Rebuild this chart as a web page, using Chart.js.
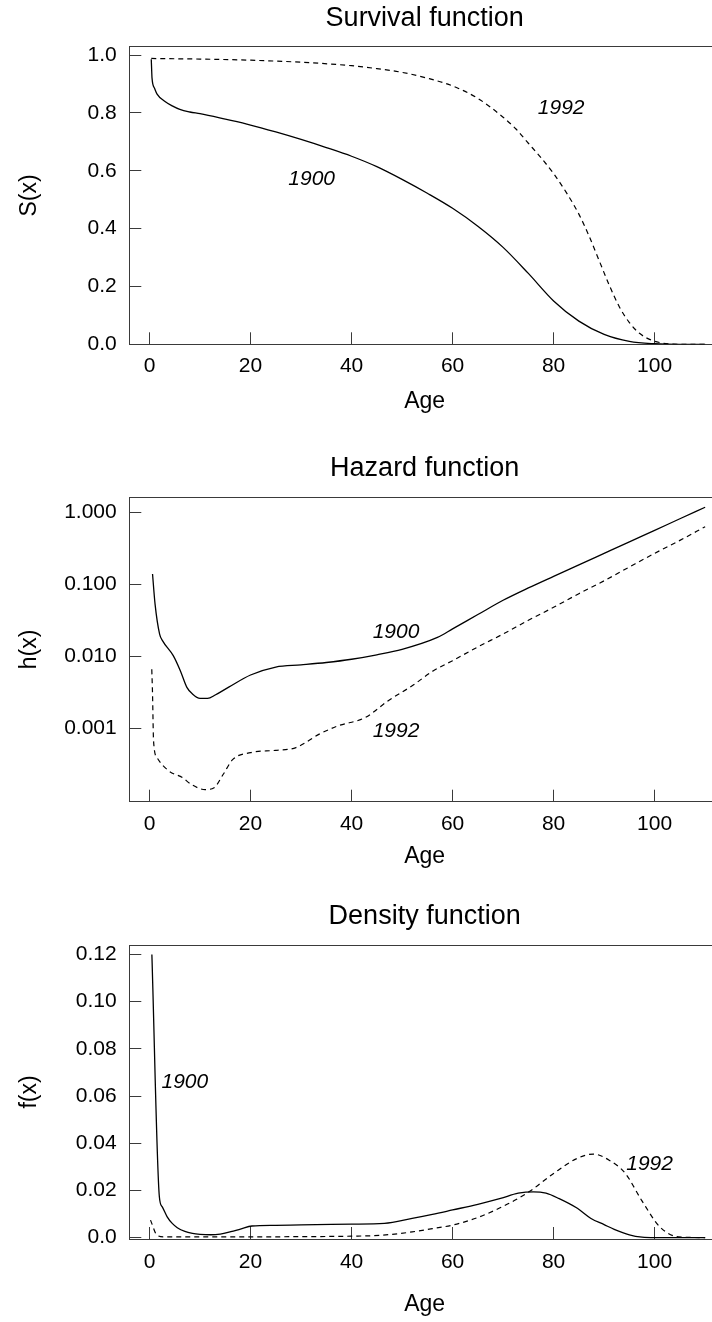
<!DOCTYPE html>
<html>
<head>
<meta charset="utf-8">
<script src="https://cdn.jsdelivr.net/npm/chart.js@4.4.1/dist/chart.umd.min.js"></script>
<style>
  html, body { margin: 0; padding: 0; background: #fff; overflow: hidden; width: 712px; height: 1322px; }
  canvas { position: absolute; left: 0; }
</style>
</head>
<body>
<canvas id="chartS" width="720" height="420" style="top:0px"></canvas>
<canvas id="chartH" width="720" height="440" style="top:440px"></canvas>
<canvas id="chartF" width="720" height="442" style="top:880px"></canvas>
<script>
// --- data ---
const ageTicks = [0, 20, 40, 60, 80, 100];
const yearLabels = ['1900', '1992'];

// survival S(x)
const survAge1900 = [0.35, 0.5, 1, 1.5, 3, 4.5, 6, 8, 10, 15, 20, 25, 30, 35, 40, 45, 50, 55, 60, 65, 70, 75, 80, 85, 90, 95, 100, 105, 110];
const surv1900 = [0.985, 0.92, 0.885, 0.865, 0.84, 0.824, 0.812, 0.803, 0.797, 0.778, 0.758, 0.734, 0.708, 0.68, 0.65, 0.614, 0.57, 0.522, 0.47, 0.408, 0.335, 0.245, 0.15, 0.08, 0.034, 0.01, 0.002, 0, 0];
const survAge1992 = [0.35, 5, 10, 20, 30, 40, 45, 50, 55, 60, 65, 70, 72.5, 75, 77.5, 80, 82.5, 85, 87, 89, 91, 93, 95, 97, 99, 101, 103, 105, 110];
const surv1992 = [0.988, 0.987, 0.986, 0.982, 0.975, 0.963, 0.953, 0.94, 0.92, 0.893, 0.85, 0.785, 0.745, 0.695, 0.645, 0.59, 0.525, 0.45, 0.375, 0.29, 0.205, 0.13, 0.075, 0.038, 0.017, 0.006, 0.001, 0, 0];
const survTicks = [0, 0.2, 0.4, 0.6, 0.8, 1.0];
const survTickLabels = ['0.0', '0.2', '0.4', '0.6', '0.8', '1.0'];
const survLabelX = [32.1, 81.5];
const survLabelY = [0.571, 0.817];

// hazard h(x), log scale
const hazAge1900 = [0.6, 1.1, 2, 2.6, 4.7, 6.1, 7.4, 8.5, 10, 11.5, 13, 15.6, 20, 25, 30, 35, 40, 45, 50, 57, 60, 65, 70, 75, 80, 85, 90, 95, 100, 105, 110];
const haz1900 = [0.139, 0.053, 0.0203, 0.0164, 0.0102, 0.0063, 0.0037, 0.003, 0.0026, 0.0026, 0.0029, 0.0037, 0.0055, 0.0071, 0.0076, 0.0082, 0.0091, 0.0105, 0.0125, 0.0183, 0.024, 0.038, 0.06, 0.089, 0.129, 0.186, 0.269, 0.389, 0.562, 0.813, 1.175];
const hazAge1992 = [0.45, 0.6, 0.8, 1.5, 3.8, 6.5, 8.3, 11, 12.8, 14.6, 16.5, 20, 25, 29, 33.6, 37.3, 42.7, 47.2, 52, 56.2, 60, 65, 70, 75, 80, 85, 90, 95, 100, 105, 110];
const haz1992 = [0.0066, 0.003, 0.00067, 0.00039, 0.000257, 0.000207, 0.000166, 0.000141, 0.00015, 0.00023, 0.00037, 0.00046, 0.000495, 0.00054, 0.00083, 0.00108, 0.00141, 0.0024, 0.0039, 0.0063, 0.0087, 0.0135, 0.0204, 0.0316, 0.0479, 0.0741, 0.112, 0.174, 0.269, 0.407, 0.631];
const hazTicks = [0.001, 0.01, 0.1, 1];
const hazTickLabels = ['0.001', '0.010', '0.100', '1.000'];
const hazLabelX = [48.8, 48.8];
const hazLabelY = [0.0214, 0.00092];

// density f(x)
const densAge1900 = [0.47, 1.95, 2.5, 3.5, 4.5, 5.5, 7, 8.5, 10, 12.1, 14, 16.1, 18, 20.3, 25, 30, 36, 40, 46.5, 52, 56, 60, 65, 69.5, 73, 76, 78.5, 81, 84.7, 87.4, 90, 92, 95, 97.5, 100, 105, 110];
const dens1900 = [0.12, 0.0173, 0.0131, 0.0088, 0.006, 0.0042, 0.0026, 0.0018, 0.0014, 0.0012, 0.0015, 0.0025, 0.0036, 0.0049, 0.0052, 0.0054, 0.0056, 0.0057, 0.006, 0.0081, 0.0098, 0.0117, 0.0141, 0.0166, 0.0188, 0.0194, 0.0188, 0.0166, 0.0124, 0.0081, 0.0055, 0.0035, 0.0012, 0.0002, 0, 0, 0];
const densAge1992 = [0.2, 1.5, 3, 10, 20, 30, 40, 46, 52, 56, 60, 65, 69.2, 72.5, 75.6, 80, 84.7, 87.9, 91, 94.2, 97.4, 101, 104.7, 110];
const dens1992 = [0.0074, 0.001, 0.0003, 0.0003, 0.0003, 0.0004, 0.0006, 0.001, 0.0024, 0.0038, 0.0053, 0.0085, 0.0124, 0.016, 0.0201, 0.0272, 0.0336, 0.0354, 0.0328, 0.0272, 0.0159, 0.0046, 0.0003, 0];
const densTicks = [0, 0.02, 0.04, 0.06, 0.08, 0.10, 0.12];
const densTickLabels = ['0.0', '0.02', '0.04', '0.06', '0.08', '0.10', '0.12'];
const densLabelX = [7.0, 99];
const densLabelY = [0.066, 0.0311];

const FONT = "'Liberation Sans', Arial, Helvetica, sans-serif";
const AXIS = '#3a3a3a';
const AGE_MIN = -4;
const AGE_MAX = 112.94;

const toPts = (xs, ys) => xs.map((x, i) => ({ x, y: ys[i] }));
const fixTicks = values => scale => { scale.ticks = values.map(v => ({ value: v })); };

function makePanel(id, p) {
  // italic year labels placed in data coordinates
  const yearTags = {
    id: 'yearTags',
    afterDatasetsDraw(chart) {
      const { ctx, scales } = chart;
      ctx.save();
      ctx.font = `italic 21px ${FONT}`;
      ctx.fillStyle = '#000';
      ctx.textAlign = 'center';
      ctx.textBaseline = 'middle';
      yearLabels.forEach((t, i) => {
        ctx.fillText(t, scales.x.getPixelForValue(p.labelX[i]), scales.y.getPixelForValue(p.labelY[i]));
      });
      ctx.restore();
    }
  };

  const tickGrid = { display: true, drawOnChartArea: false, drawTicks: true, tickLength: -12, color: AXIS, lineWidth: 1 };

  return new Chart(document.getElementById(id), {
    type: 'line',
    data: {
      datasets: [
        { data: toPts(p.x1, p.y1), borderColor: '#000', borderWidth: 1.3, pointRadius: 0, fill: false, cubicInterpolationMode: 'monotone' },
        { data: toPts(p.x2, p.y2), borderColor: '#000', borderWidth: 1.2, borderDash: [5, 4], pointRadius: 0, fill: false, cubicInterpolationMode: 'monotone' }
      ]
    },
    options: {
      responsive: false,
      animation: false,
      devicePixelRatio: 1,
      layout: { padding: 0, autoPadding: false },
      plugins: {
        legend: { display: false },
        tooltip: { enabled: false },
        title: {
          display: true,
          text: p.title,
          fullSize: false,
          color: '#000',
          font: { family: FONT, size: 27, weight: 'normal', lineHeight: 1.2 },
          padding: { top: p.titleTop, bottom: p.titleBottom }
        }
      },
      scales: {
        x: {
          type: 'linear',
          position: 'bottom',
          bounds: 'data',
          min: AGE_MIN,
          max: AGE_MAX,
          afterBuildTicks: fixTicks(ageTicks),
          afterFit: s => { s.height = p.xHeight; },
          grid: tickGrid,
          border: { display: true, color: AXIS, width: 1 },
          ticks: { color: '#000', font: { family: FONT, size: 21 }, padding: p.xPad, maxRotation: 0, autoSkip: false, callback: v => String(v) },
          title: { display: true, text: 'Age', color: '#000', font: { family: FONT, size: 23 }, padding: { top: 0, bottom: p.agePad } }
        },
        xTop: {
          type: 'linear',
          position: 'top',
          bounds: 'data',
          min: AGE_MIN,
          max: AGE_MAX,
          afterFit: s => { s.height = 0; },
          grid: { display: false, drawTicks: false },
          ticks: { display: false },
          border: { display: true, color: AXIS, width: 1 }
        },
        y: {
          type: p.yType,
          position: 'left',
          bounds: 'data',
          min: p.yMin,
          max: p.yMax,
          afterBuildTicks: fixTicks(p.yTicks),
          afterFit: s => { s.width = 129.3; },
          grid: tickGrid,
          border: { display: true, color: AXIS, width: 1 },
          ticks: { color: '#000', font: { family: FONT, size: 21 }, padding: 24.6, autoSkip: false, callback: (v, i) => p.yTickLabels[i] },
          title: { display: true, text: p.yTitle, color: '#000', font: { family: FONT, size: 23 }, padding: { top: 15.6, bottom: 0 } }
        }
      }
    },
    plugins: [yearTags]
  });
}

makePanel('chartS', {
  title: 'Survival function', titleTop: 2.1, titleBottom: 12.2, xHeight: 75.7, xPad: 21.1, agePad: 4.5,
  x1: survAge1900, y1: surv1900, x2: survAge1992, y2: surv1992,
  yType: 'linear', yMin: 0, yMax: 1.0287, yTicks: survTicks, yTickLabels: survTickLabels, yTitle: 'S(x)',
  labelX: survLabelX, labelY: survLabelY
});

makePanel('chartH', {
  title: 'Hazard function', titleTop: 12.8, titleBottom: 12.1, xHeight: 78.3, xPad: 21.5, agePad: 9.5,
  x1: hazAge1900, y1: haz1900, x2: hazAge1992, y2: haz1992,
  yType: 'logarithmic', yMin: 0.0000957, yMax: 1.615, yTicks: hazTicks, yTickLabels: hazTickLabels, yTitle: 'h(x)',
  labelX: hazLabelX, labelY: hazLabelY
});

makePanel('chartF', {
  title: 'Density function', titleTop: 20.5, titleBottom: 12.1, xHeight: 83, xPad: 23, agePad: 3.2,
  x1: densAge1900, y1: dens1900, x2: densAge1992, y2: dens1992,
  yType: 'linear', yMin: -0.0006, yMax: 0.124, yTicks: densTicks, yTickLabels: densTickLabels, yTitle: 'f(x)',
  labelX: densLabelX, labelY: densLabelY
});
</script>
</body>
</html>
